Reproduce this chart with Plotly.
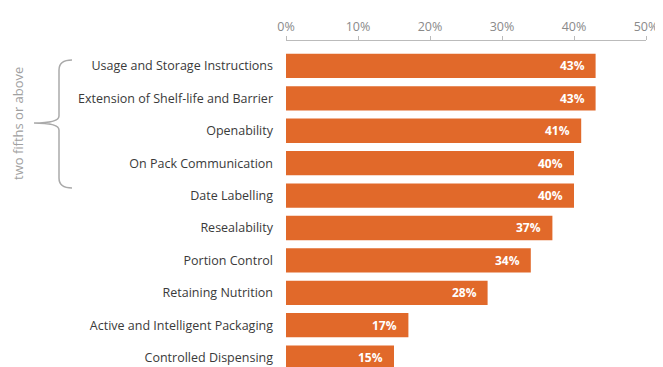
import plotly.graph_objects as go

categories = [
    "Usage and Storage Instructions",
    "Extension of Shelf-life and Barrier",
    "Openability",
    "On Pack Communication",
    "Date Labelling",
    "Resealability",
    "Portion Control",
    "Retaining Nutrition",
    "Active and Intelligent Packaging",
    "Controlled Dispensing",
]
values = [43, 43, 41, 40, 40, 37, 34, 28, 17, 15]
tick_vals = [0, 10, 20, 30, 40, 50]
tick_text = ["0%", "10%", "20%", "30%", "40%", "50%"]
bracket_label = "two fifths or above"

# page body has an 8px margin; lay out in window pixels and offset
OFF = 8
WIN_W, WIN_H = 663, 367
W, H = WIN_W - OFF, WIN_H - OFF
ML, MR, MT, MB = 286 - OFF, 17, 41 - OFF, 0
BAR = "#E1692A"
FONT = "Open Sans"

def px(x):
    return (x - OFF - ML) / (W - ML - MR)

def py(y):
    return (H - MB - (y - OFF)) / (H - MT - MB)

fig = go.Figure()
fig.add_trace(go.Bar(
    x=values, y=categories, orientation="h",
    marker=dict(color=BAR, line=dict(width=0)),
    width=0.75, hoverinfo="skip",
))

for c, v in zip(categories, values):
    fig.add_annotation(
        x=v, y=c, text=f"<b>{v}%</b>", showarrow=False,
        xanchor="right", xshift=-9,
        font=dict(family=FONT, size=12, color="white"),
    )

# bracket
bx_end, bx_mid, bx_tip = 72, 59, 34
y_top, y_mid, y_bot = 60, 123, 188
path = (
    f"M {px(bx_end)} {py(y_top)} "
    f"Q {px(bx_mid)} {py(y_top)} {px(bx_mid)} {py(y_top+10)} "
    f"L {px(bx_mid)} {py(y_mid-7)} "
    f"Q {px(bx_mid)} {py(y_mid)} {px(bx_tip)} {py(y_mid)} "
    f"Q {px(bx_mid)} {py(y_mid)} {px(bx_mid)} {py(y_mid+7)} "
    f"L {px(bx_mid)} {py(y_bot-10)} "
    f"Q {px(bx_mid)} {py(y_bot)} {px(bx_end)} {py(y_bot)}"
)
fig.add_shape(type="path", path=path, xref="paper", yref="paper",
              line=dict(color="#AAAAAA", width=1.5))
fig.add_annotation(
    x=px(18), y=py(124), xref="paper", yref="paper",
    xanchor="center", yanchor="middle",
    text=bracket_label, showarrow=False, textangle=-90,
    font=dict(family=FONT, size=13, color="#A0A0A0"),
)

fig.update_layout(
    width=W, height=H,
    margin=dict(l=ML, r=MR, t=MT, b=MB, pad=0, autoexpand=False),
    plot_bgcolor="white", paper_bgcolor="white",
    showlegend=False,
    bargap=0.25,
    font=dict(family=FONT),
)
fig.update_xaxes(
    side="top", range=[0, 50], tickvals=tick_vals, ticktext=tick_text,
    showgrid=False, zeroline=False, showline=True, linecolor="#BBBBBB",
    linewidth=1, ticks="outside", ticklen=4, tickcolor="#BBBBBB",
    tickfont=dict(family=FONT, size=12.5, color="#8A8A8A"),
    fixedrange=True, automargin=False,
)
fig.update_yaxes(
    range=[9.29, -0.77], showgrid=False, zeroline=False, showline=False,
    ticks="", ticklabelstandoff=12,
    tickfont=dict(family=FONT, size=12.5, color="#3A3A3A"),
    fixedrange=True, automargin=False,
)

fig.write_html("out.html", config={"displayModeBar": False})
